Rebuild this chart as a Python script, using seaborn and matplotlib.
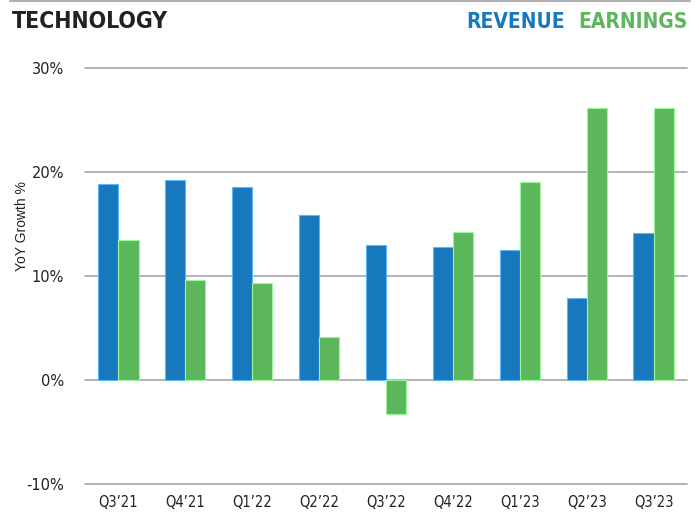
import pandas as pd
import matplotlib.pyplot as plt
import seaborn as sns
from matplotlib.lines import Line2D

quarters = ["Q3\u201921", "Q4\u201921", "Q1\u201922", "Q2\u201922", "Q3\u201922",
            "Q4\u201922", "Q1\u201923", "Q2\u201923", "Q3\u201923"]
revenue = [18.8, 19.2, 18.6, 15.9, 13.0, 12.8, 12.5, 7.9, 14.1]
earnings = [13.5, 9.6, 9.3, 4.1, -3.3, 14.2, 19.0, 26.2, 26.2]
y_ticks = [-10, 0, 10, 20, 30]

blue = "#1878be"
green = "#5cb65b"

df = pd.DataFrame({
    "quarter": quarters * 2,
    "growth": revenue + earnings,
    "series": ["Revenue"] * len(quarters) + ["Earnings"] * len(quarters),
})

sns.set_style("white")
plt.rcParams["font.family"] = ["DejaVu Sans"]

fig = plt.figure(figsize=(6.99, 5.14), dpi=100)
ax = fig.add_axes([0.1216, 0.0584, 0.8612, 0.8093])

sns.barplot(data=df, x="quarter", y="growth", hue="series", order=quarters,
            hue_order=["Revenue", "Earnings"], palette=[blue, green],
            saturation=1, width=0.6, ax=ax, legend=False, linewidth=0.8)
# lighter edges like the original
for patch in ax.patches:
    fc = patch.get_facecolor()
    patch.set_edgecolor((min(fc[0] + 0.25, 1), min(fc[1] + 0.25, 1), min(fc[2] + 0.25, 1), 1))

ax.set_ylim(-10, 30)
ax.set_xlim(-0.5, 8.5)
ax.set_yticks(y_ticks)
ax.set_yticklabels([f"{t}%" for t in y_ticks], fontsize=10.5, color="#222222")
ax.tick_params(axis="x", labelsize=10.5, colors="#222222", length=0, pad=8)
ax.tick_params(axis="y", length=0, pad=15)
for lab in ax.get_xticklabels():
    lab.set_fontstretch("condensed")
ax.yaxis.grid(True, color="#a6a6a6", linewidth=1.2)
for gl in ax.get_ygridlines():
    gl.set_clip_on(False)
ax.set_axisbelow(True)
for s in ax.spines.values():
    s.set_visible(False)
ax.set_xlabel("")
ax.set_ylabel("")
fig.text(0.031, 0.56, "YoY Growth %", fontsize=10, color="#222222", family="Liberation Sans",
         rotation=90, ha="center", va="center")

# top rule, title and colored legend text
head_kw = dict(fontweight="bold", family="DejaVu Sans", fontstretch="condensed", va="center")
fig.add_artist(Line2D([0.014, 0.987], [0.999, 0.999], color="#b0b0b0", linewidth=1.5))
fig.text(0.017, 0.958, "TECHNOLOGY", fontsize=16.5, color="#222222", ha="left", **head_kw)
fig.text(0.667, 0.958, "REVENUE", fontsize=15, color=blue, ha="left", **head_kw)
fig.text(0.983, 0.958, "EARNINGS", fontsize=15, color=green, ha="right", **head_kw)

fig.savefig("out.png", dpi=100)
